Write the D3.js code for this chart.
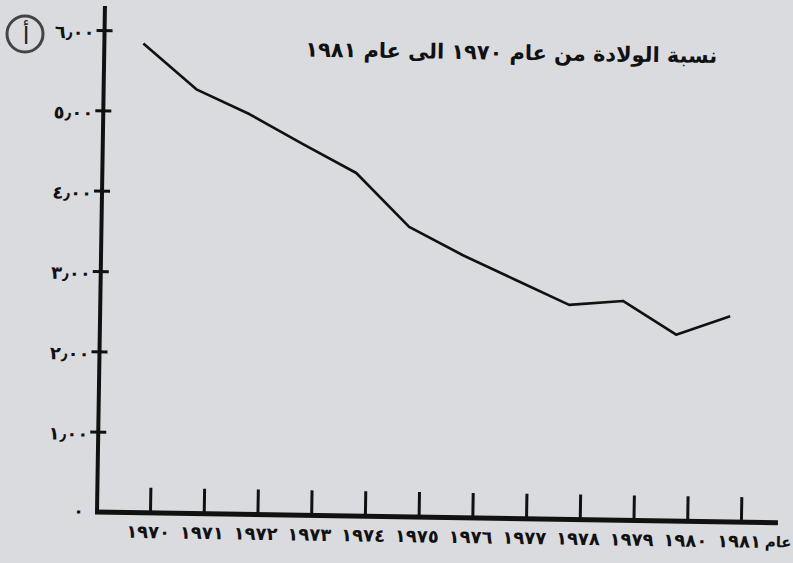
<!DOCTYPE html>
<html>
<head>
<meta charset="utf-8">
<script src="https://cdn.jsdelivr.net/npm/d3@7"></script>
<style>
	html, body { margin: 0; padding: 0; background: #dadbde; }
	svg { display: block; }
	text { font-family: "DejaVu Sans", sans-serif; fill: #111; }
</style>
</head>
<body>
<svg width="793" height="563"></svg>
<script>

	// birth rate 1970 - 1981
	var years = ["1970", "1971", "1972", "1973", "1974", "1975", "1976", "1977", "1978", "1979", "1980", "1981"];
	var yearLabels = ["١٩٧٠", "١٩٧١", "١٩٧٢", "١٩٧٣", "١٩٧٤", "١٩٧٥", "١٩٧٦", "١٩٧٧", "١٩٧٨", "١٩٧٩", "١٩٨٠", "١٩٨١"];
	var rates = [5.84, 5.28, 4.98, 4.62, 4.27, 3.61, 3.27, 2.97, 2.67, 2.73, 2.32, 2.56];
	var yTicks = [0, 1, 2, 3, 4, 5, 6];
	var yTickLabels = ["٠", "١٫٠٠", "٢٫٠٠", "٣٫٠٠", "٤٫٠٠", "٥٫٠٠", "٦٫٠٠"];
	var title = "نسبة الولادة من عام ١٩٧٠ الى عام ١٩٨١";
	var xAxisTitle = "عام";
	var panelMark = "أ";

	var svg = d3.select("svg");
	var ox = 97, oy = 512;

	// the page was photographed a little crooked
	var g = svg.append("g").attr("transform", "rotate(0.9," + ox + "," + oy + ")");

	var x = d3.scalePoint().domain(years).range([150, 741]);
	// the hand drawn line sits a bit left of the tick marks
	var xLine = d3.scalePoint().domain(years).range([136, 727]);
	var y = d3.scaleLinear().domain([0, 6]).range([oy, 30]);

	// y axis
	var yAxis = g.append("g")
		.attr("transform", "translate(" + ox + ",0)")
		.call(d3.axisLeft(y).tickValues(yTicks.slice(1)).tickSize(8)
			.tickFormat(function(d) { return yTickLabels[yTicks.indexOf(d)]; }));
	yAxis.select(".domain").remove();
	yAxis.selectAll(".tick line").attr("x1", -8).attr("x2", 8)
		.attr("stroke", "#111").attr("stroke-width", 3);
	yAxis.selectAll(".tick text")
		.attr("x", -10).attr("dy", "0.45em")
		.style("font-size", "18px").style("font-weight", "bold");

	g.append("text")
		.attr("x", ox - 13).attr("y", y(0)).attr("dy", "0.3em")
		.attr("text-anchor", "end")
		.style("font-size", "18px").style("font-weight", "bold")
		.text(yTickLabels[0]);

	g.append("line")
		.attr("x1", ox).attr("x2", ox)
		.attr("y1", oy + 2).attr("y2", 6)
		.attr("stroke", "#111").attr("stroke-width", 4);

	// x axis
	var xAxis = g.append("g")
		.attr("transform", "translate(0," + oy + ")")
		.call(d3.axisBottom(x).tickSize(-25)
			.tickFormat(function(d, i) { return yearLabels[i]; }));
	xAxis.select(".domain").remove();
	xAxis.selectAll(".tick line").attr("stroke", "#111").attr("stroke-width", 3);
	xAxis.selectAll(".tick text")
		.attr("x", -2).attr("y", 20).attr("dy", "0.3em")
		.style("font-size", "18px").style("font-weight", "bold");

	g.append("line")
		.attr("x1", ox - 2).attr("x2", 778)
		.attr("y1", oy).attr("y2", oy)
		.attr("stroke", "#111").attr("stroke-width", 5);

	g.append("text")
		.attr("x", 792).attr("y", oy + 20).attr("dy", "0.3em")
		.attr("text-anchor", "end")
		.style("font-size", "15px").style("font-weight", "bold")
		.text(xAxisTitle);

	// data line
	var line = d3.line()
		.x(function(d, i) { return xLine(years[i]); })
		.y(function(d) { return y(d); });

	g.append("path")
		.datum(rates)
		.attr("fill", "none")
		.attr("stroke", "#111")
		.attr("stroke-width", 2.6)
		.attr("stroke-linejoin", "round")
		.attr("d", line);

	// title, squeezed to the printed width
	var t = g.append("text")
		.attr("x", 504).attr("y", 46).attr("dy", "0.35em")
		.attr("text-anchor", "middle")
		.attr("direction", "rtl")
		.style("font-size", "20px").style("font-weight", "bold")
		.text(title);
	var w = t.node().getComputedTextLength();
	t.style("font-size", (20 * 412 / w) + "px");

	// panel mark
	svg.append("circle")
		.attr("cx", 25).attr("cy", 34).attr("r", 18)
		.attr("fill", "none").attr("stroke", "#444").attr("stroke-width", 3);
	svg.append("text")
		.attr("x", 26).attr("y", 36).attr("dy", "0.35em")
		.attr("text-anchor", "middle")
		.style("font-size", "24px").style("fill", "#222")
		.text(panelMark);

</script>
</body>
</html>
